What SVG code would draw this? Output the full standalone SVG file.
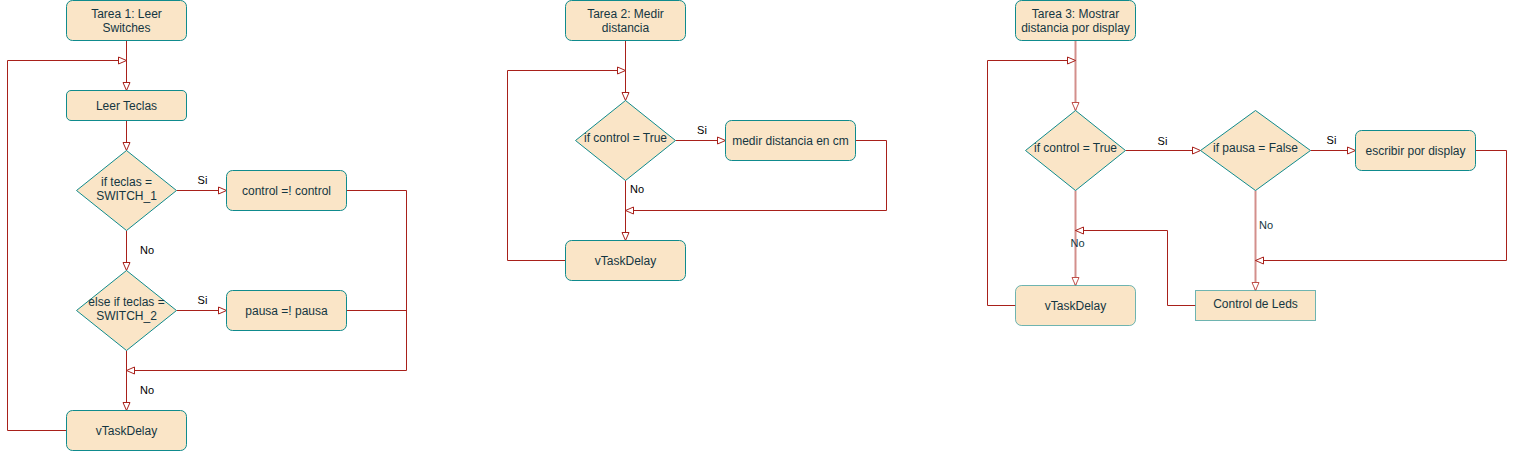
<svg xmlns="http://www.w3.org/2000/svg" width="1518" height="452" viewBox="0 0 1518 452">
<style>
.n{fill:#FAE5C7;stroke:#0F8B8D;stroke-width:1}
.nl{fill:#FAE5C7;stroke:#0F8B8D;stroke-opacity:0.6;stroke-width:1}
.t{font-family:"Liberation Sans",Arial,sans-serif;font-size:12px;fill:#143642;text-anchor:middle}
.l{font-family:"Liberation Sans",Arial,sans-serif;font-size:11px;fill:#000}
.lc{text-anchor:middle}
.e{fill:none;stroke:#A8201A;stroke-width:1}
.el{fill:none;stroke:#A8201A;stroke-opacity:0.5;stroke-width:2}
</style>
<defs>
<marker id="ah" markerWidth="10" markerHeight="9" refX="8" refY="4" orient="auto" markerUnits="userSpaceOnUse" overflow="visible">
<path d="M0,0.5 L8,4 L0,7.5 Z" fill="#fff" stroke="#A8201A" stroke-width="1"/>
</marker>
<marker id="ahl" markerWidth="10" markerHeight="9" refX="8" refY="4" orient="auto" markerUnits="userSpaceOnUse" overflow="visible">
<path d="M0,0.5 L8,4 L0,7.5 Z" fill="#fff" stroke="#C0504A" stroke-width="1"/>
</marker>
</defs>

<g id="connectors">
<!-- column 1 -->
<path class="e" d="M126.5,40.5 V90.5" marker-end="url(#ah)"/>
<path class="e" d="M66.5,430.5 H7.5 V60.5 H126.5" marker-end="url(#ah)"/>
<path class="e" d="M126.5,120.5 V150.5" marker-end="url(#ah)"/>
<path class="e" d="M176.5,190.5 H226.5" marker-end="url(#ah)"/>
<path class="e" d="M126.5,230.5 V270.5" marker-end="url(#ah)"/>
<path class="e" d="M176.5,310.5 H226.5" marker-end="url(#ah)"/>
<path class="e" d="M346.5,190.5 H406.5 V370.5 H126.5" marker-end="url(#ah)"/>
<path class="e" d="M346.5,310.5 H406.5"/>
<path class="e" d="M126.5,350.5 V410.5" marker-end="url(#ah)"/>
<!-- column 2 -->
<path class="e" d="M625.5,40.5 V100.5" marker-end="url(#ah)"/>
<path class="e" d="M565.5,260.5 H507.5 V70.5 H625.5" marker-end="url(#ah)"/>
<path class="e" d="M675.5,140.5 H725.5" marker-end="url(#ah)"/>
<path class="e" d="M855.5,140.5 H886.5 V210.5 H625.5" marker-end="url(#ah)"/>
<path class="e" d="M625.5,180.5 V240.5" marker-end="url(#ah)"/>
<!-- column 3 -->
<path class="el" d="M1075.5,40.5 V110.5" marker-end="url(#ahl)"/>
<path class="e" d="M1015.5,305.5 H987.5 V60.5 H1075.5" marker-end="url(#ah)"/>
<path class="e" d="M1125.5,150.5 H1200.5" marker-end="url(#ah)"/>
<path class="e" d="M1310.5,150.5 H1355.5" marker-end="url(#ah)"/>
<path class="e" d="M1475.5,150.5 H1506.5 V260.5 H1255.5" marker-end="url(#ah)"/>
<path class="el" d="M1255.5,190.5 V290.5" marker-end="url(#ahl)"/>
<path class="e" d="M1195.5,305.5 H1167.5 V230.5 H1075.5" marker-end="url(#ah)"/>
<path class="el" d="M1075.5,190.5 V285.5" marker-end="url(#ahl)"/>
<!-- labels -->
<text class="l lc" x="202.5" y="183.5">Si</text>
<text class="l" x="140" y="253.5">No</text>
<text class="l lc" x="202.5" y="303.5">Si</text>
<text class="l" x="140" y="393.5">No</text>
<text class="l lc" x="702" y="133.5">Si</text>
<text class="l" x="630" y="192.5">No</text>
<text class="l lc" x="1162.5" y="145">Si</text>
<text class="l lc" x="1331.5" y="144">Si</text>
<text class="l" x="1259" y="229" style="fill:#143642">No</text>
<text class="l lc" x="1077.5" y="246.5" style="fill:#143642">No</text>
</g>

<!-- column 1 nodes -->
<g id="t1"><rect class="n" x="66.5" y="0.5" width="120" height="40" rx="6"/><text class="t" x="126.5" y="17.5">Tarea 1: Leer</text><text class="t" x="126.5" y="31.5">Switches</text></g>
<g id="leer"><rect class="n" x="66.5" y="90.5" width="120" height="30" rx="4.5"/><text class="t" x="126.5" y="109.5">Leer Teclas</text></g>
<g id="d1"><path class="n" d="M126.5,150.5 L176.5,190.5 L126.5,230.5 L76.5,190.5 Z"/><text class="t" x="126.5" y="185.5">if teclas =</text><text class="t" x="126.5" y="200">SWITCH_1</text></g>
<g id="control"><rect class="n" x="226.5" y="170.5" width="120" height="40" rx="6"/><text class="t" x="286.5" y="194.5">control =! control</text></g>
<g id="d2"><path class="n" d="M126.5,270.5 L176.5,310.5 L126.5,350.5 L76.5,310.5 Z"/><text class="t" x="126.5" y="305.5">else if teclas =</text><text class="t" x="126.5" y="320">SWITCH_2</text></g>
<g id="pausa"><rect class="n" x="226.5" y="290.5" width="120" height="40" rx="6"/><text class="t" x="286.5" y="314.5">pausa =! pausa</text></g>
<g id="vt1"><rect class="n" x="66.5" y="410.5" width="120" height="40" rx="6"/><text class="t" x="126.5" y="434.5">vTaskDelay</text></g>

<!-- column 2 nodes -->
<g id="t2"><rect class="n" x="565.5" y="0.5" width="120" height="40" rx="6"/><text class="t" x="625.5" y="17.5">Tarea 2: Medir</text><text class="t" x="625.5" y="31.5">distancia</text></g>
<g id="d3"><path class="n" d="M625.5,100.5 L675.5,140.5 L625.5,180.5 L575.5,140.5 Z"/><text class="t" x="625.5" y="142">if control = True</text></g>
<g id="medir"><rect class="n" x="725.5" y="120.5" width="130" height="40" rx="6"/><text class="t" x="790.5" y="144.5">medir distancia en cm</text></g>
<g id="vt2"><rect class="n" x="565.5" y="240.5" width="120" height="40" rx="6"/><text class="t" x="625.5" y="264.5">vTaskDelay</text></g>

<!-- column 3 nodes -->
<g id="t3"><rect class="n" x="1015.5" y="0.5" width="120" height="40" rx="6"/><text class="t" x="1075.5" y="17.5">Tarea 3: Mostrar</text><text class="t" x="1075.5" y="31.5">distancia por display</text></g>
<g id="d4"><path class="n" d="M1075.5,110.5 L1125.5,150.5 L1075.5,190.5 L1025.5,150.5 Z"/><text class="t" x="1075.5" y="152">if control = True</text></g>
<g id="d5"><path class="n" d="M1255.5,110.5 L1310.5,150.5 L1255.5,190.5 L1200.5,150.5 Z"/><text class="t" x="1255.5" y="152">if pausa = False</text></g>
<g id="escribir"><rect class="n" x="1355.5" y="130.5" width="120" height="40" rx="6"/><text class="t" x="1415.5" y="154.5">escribir por display</text></g>
<g id="leds"><rect class="nl" x="1195.5" y="290.5" width="120" height="30"/><text class="t" x="1255.5" y="307.5">Control de Leds</text></g>
<g id="vt3"><rect class="nl" x="1015.5" y="285.5" width="120" height="40" rx="6"/><text class="t" x="1075.5" y="309.5">vTaskDelay</text></g>
</svg>
